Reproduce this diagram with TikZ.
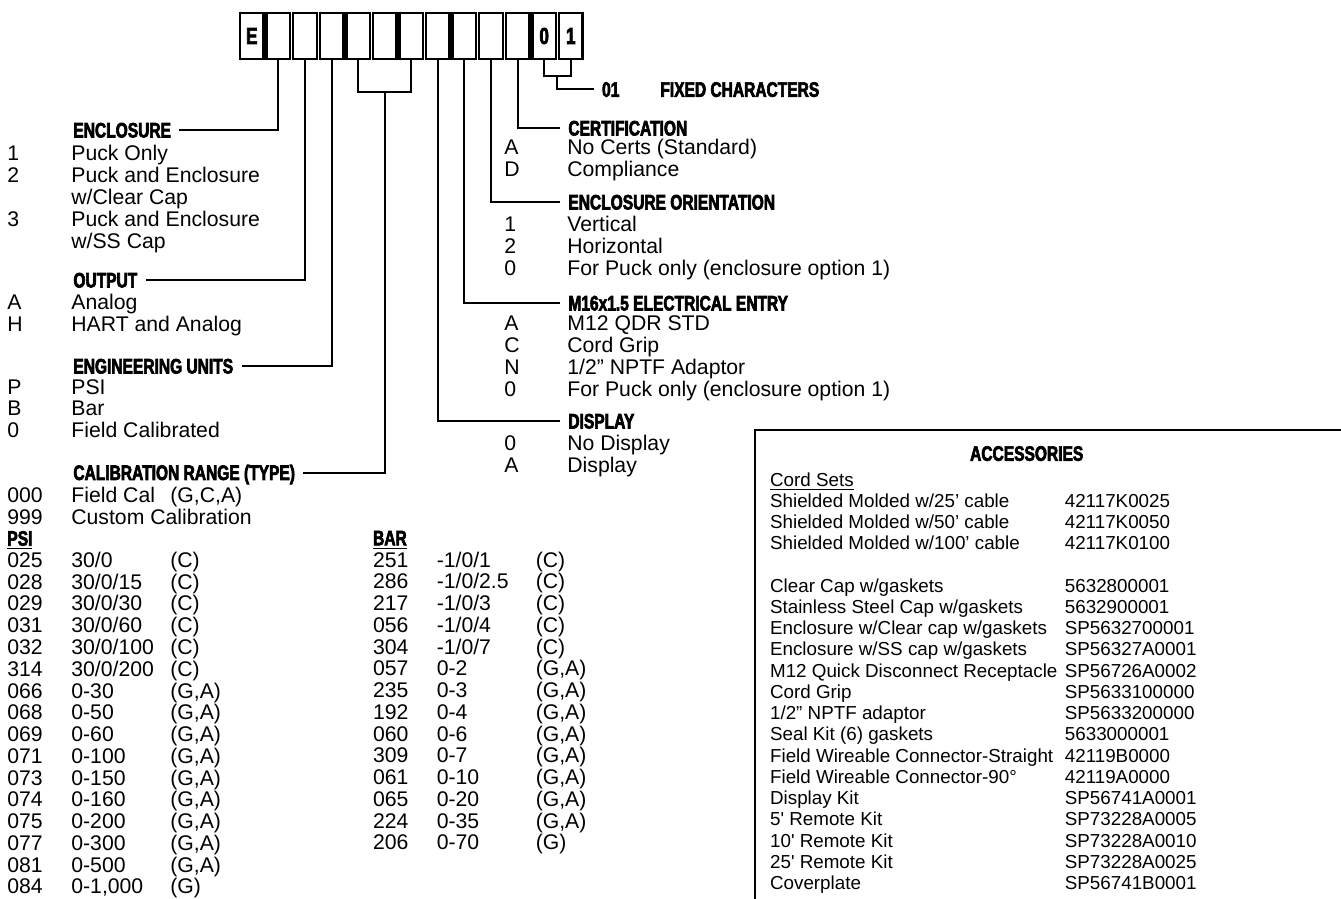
\documentclass[tikz,border=0pt]{standalone}
\usepackage{fontspec}
\setmainfont{Liberation Sans}
\newfontfamily\headfont[FakeStretch=0.74,FakeBold=3]{Liberation Sans Bold}
\usetikzlibrary{calc}
\newcommand{\bodysize}{\fontsize{10.6}{10.67}\selectfont}
\newcommand{\accsize}{\fontsize{9.4}{10.625}\selectfont}
\newcommand{\headsize}{\fontsize{10.5}{10.67}\selectfont}
\newcommand{\ulhead}[1]{\underline{\headfont\headsize #1}}

\begin{document}
\begin{tikzpicture}[x=0.5pt, y=-0.5pt,
    digit/.style={draw, line width=1.2pt, minimum width=11.8pt, minimum height=23pt,
      inner sep=0pt, font=\headfont\fontsize{11.5}{12}\selectfont},
    heading/.style={anchor=west, inner xsep=4pt, inner ysep=0pt, text height=7.5pt,
      text depth=0pt, font=\headfont\headsize},
    list/.style={anchor=base west, inner sep=0pt, font=\bodysize},
    wire/.style={line width=1pt},
  ]
  \useasboundingbox (0,0) rectangle (1341,899);

  % part number boxes
  \foreach \i/\c in {1/E,2/{},3/{},4/{},5/{},6/{},7/{},8/{},9/{},10/{},11/{},12/0,13/1}
    \node[digit] (b\i) at ({251.8+26.58*(\i-1)},36) {\c};

  % headings
  \node[heading] (hencl) at (65,130) {ENCLOSURE};
  \node[heading] (hout) at (65,280) {OUTPUT};
  \node[heading] (heng) at (65,366) {ENGINEERING UNITS};
  \node[heading] (hcal) at (65,472.5) {CALIBRATION RANGE (TYPE)};
  \node[heading] (hcert) at (560,128) {CERTIFICATION};
  \node[heading] (hori) at (560,202) {ENCLOSURE ORIENTATION};
  \node[heading] (hm16) at (560,303) {M16x1.5 ELECTRICAL ENTRY};
  \node[heading] (hdisp) at (560,421) {DISPLAY};
  \node[heading] (h01) at (593.7,89.3) {01};
  \node[heading] (hfix) at (652,89.3) {FIXED CHARACTERS};

  % option lists
  \node[list] (lencl) at (7,161) {\begin{tabular}[t]{@{}p{32pt}@{}l@{}}
    1 & Puck Only\\
    2 & Puck and Enclosure\\
      & w/Clear Cap\\
    3 & Puck and Enclosure\\
      & w/SS Cap
  \end{tabular}};
  \node[list] (lout) at (7,309.3) {\begin{tabular}[t]{@{}p{32pt}@{}l@{}}
    A & Analog\\
    H & HART and Analog
  \end{tabular}};
  \node[list] (leng) at (7,394.3) {\begin{tabular}[t]{@{}p{32pt}@{}l@{}}
    P & PSI\\
    B & Bar\\
    0 & Field Calibrated
  \end{tabular}};
  \node[list] (lcal) at (7,502.6) {\begin{tabular}[t]{@{}p{32pt}@{}p{49.5pt}@{}l@{}}
    000 & Field Cal & (G,C,A)\\
    999 & \multicolumn{2}{@{}l@{}}{Custom Calibration}\\
    \ulhead{PSI} & & \\
    025 & 30/0 & (C)\\
    028 & 30/0/15 & (C)\\
    029 & 30/0/30 & (C)\\
    031 & 30/0/60 & (C)\\
    032 & 30/0/100 & (C)\\
    314 & 30/0/200 & (C)\\
    066 & 0-30 & (G,A)\\
    068 & 0-50 & (G,A)\\
    069 & 0-60 & (G,A)\\
    071 & 0-100 & (G,A)\\
    073 & 0-150 & (G,A)\\
    074 & 0-160 & (G,A)\\
    075 & 0-200 & (G,A)\\
    077 & 0-300 & (G,A)\\
    081 & 0-500 & (G,A)\\
    084 & 0-1,000 & (G)
  \end{tabular}};
  \node[list] (lbar) at (372.7,545.3) {\begin{tabular}[t]{@{}p{31.85pt}@{}p{49.5pt}@{}l@{}}
    \ulhead{BAR} & & \\
    251 & -1/0/1 & (C)\\
    286 & -1/0/2.5 & (C)\\
    217 & -1/0/3 & (C)\\
    056 & -1/0/4 & (C)\\
    304 & -1/0/7 & (C)\\
    057 & 0-2 & (G,A)\\
    235 & 0-3 & (G,A)\\
    192 & 0-4 & (G,A)\\
    060 & 0-6 & (G,A)\\
    309 & 0-7 & (G,A)\\
    061 & 0-10 & (G,A)\\
    065 & 0-20 & (G,A)\\
    224 & 0-35 & (G,A)\\
    206 & 0-70 & (G)
  \end{tabular}};
  \node[list] (lcert) at (504,154.3) {\begin{tabular}[t]{@{}p{31.5pt}@{}l@{}}
    A & No Certs (Standard)\\
    D & Compliance
  \end{tabular}};
  \node[list] (lori) at (504,231.6) {\begin{tabular}[t]{@{}p{31.5pt}@{}l@{}}
    1 & Vertical\\
    2 & Horizontal\\
    0 & For Puck only (enclosure option 1)
  \end{tabular}};
  \node[list] (lm16) at (504,330.9) {\begin{tabular}[t]{@{}p{31.5pt}@{}l@{}}
    A & M12 QDR STD\\
    C & Cord Grip\\
    N & 1/2” NPTF Adaptor\\
    0 & For Puck only (enclosure option 1)
  \end{tabular}};
  \node[list] (ldisp) at (504,450.9) {\begin{tabular}[t]{@{}p{31.5pt}@{}l@{}}
    0 & No Display\\
    A & Display
  \end{tabular}};

  % connectors
  \draw[wire] (b2.south) |- (hencl.east);
  \draw[wire] (b3.south) |- (hout.east);
  \draw[wire] (b4.south) |- (heng.east);
  \draw[wire] (b5.south) -- ++(0,31.7) -| (b7.south);
  \coordinate (calj) at ($(b5.south)!0.5!(b7.south)+(0,31.7)$);
  \draw[wire] (calj) |- (hcal.east);
  \draw[wire] (b8.south) |- (hdisp.west);
  \draw[wire] (b9.south) |- (hm16.west);
  \draw[wire] (b10.south) |- (hori.west);
  \draw[wire] (b11.south) |- (hcert.west);
  \draw[wire] (b12.south) -- ++(0,16) -| (b13.south);
  \coordinate (fixj) at ($(b12.south)!0.5!(b13.south)+(0,16)$);
  \draw[wire] (fixj) |- (h01.west);

  % accessories
  \draw[wire] (755,430) rectangle (1360,920);
  \node[heading, anchor=center] (hacc) at (1026.7,453.3) {ACCESSORIES};
  \node[list, font=\accsize] (lacc) at (769.7,486) {\begin{tabular}[t]{@{}p{147.4pt}@{}l@{}}
    \underline{Cord Sets} & \\
    Shielded Molded w/25’ cable & 42117K0025\\
    Shielded Molded w/50’ cable & 42117K0050\\
    Shielded Molded w/100’ cable & 42117K0100\\
    & \\
    Clear Cap w/gaskets & 5632800001\\
    Stainless Steel Cap w/gaskets & 5632900001\\
    Enclosure w/Clear cap w/gaskets & SP5632700001\\
    Enclosure w/SS cap w/gaskets & SP56327A0001\\
    M12 Quick Disconnect Receptacle & SP56726A0002\\
    Cord Grip & SP5633100000\\
    1/2” NPTF adaptor & SP5633200000\\
    Seal Kit (6) gaskets & 5633000001\\
    Field Wireable Connector-Straight & 42119B0000\\
    Field Wireable Connector-90° & 42119A0000\\
    Display Kit & SP56741A0001\\
    5\textquotesingle{} Remote Kit & SP73228A0005\\
    10\textquotesingle{} Remote Kit & SP73228A0010\\
    25\textquotesingle{} Remote Kit & SP73228A0025\\
    Coverplate & SP56741B0001
  \end{tabular}};
\end{tikzpicture}
\end{document}
